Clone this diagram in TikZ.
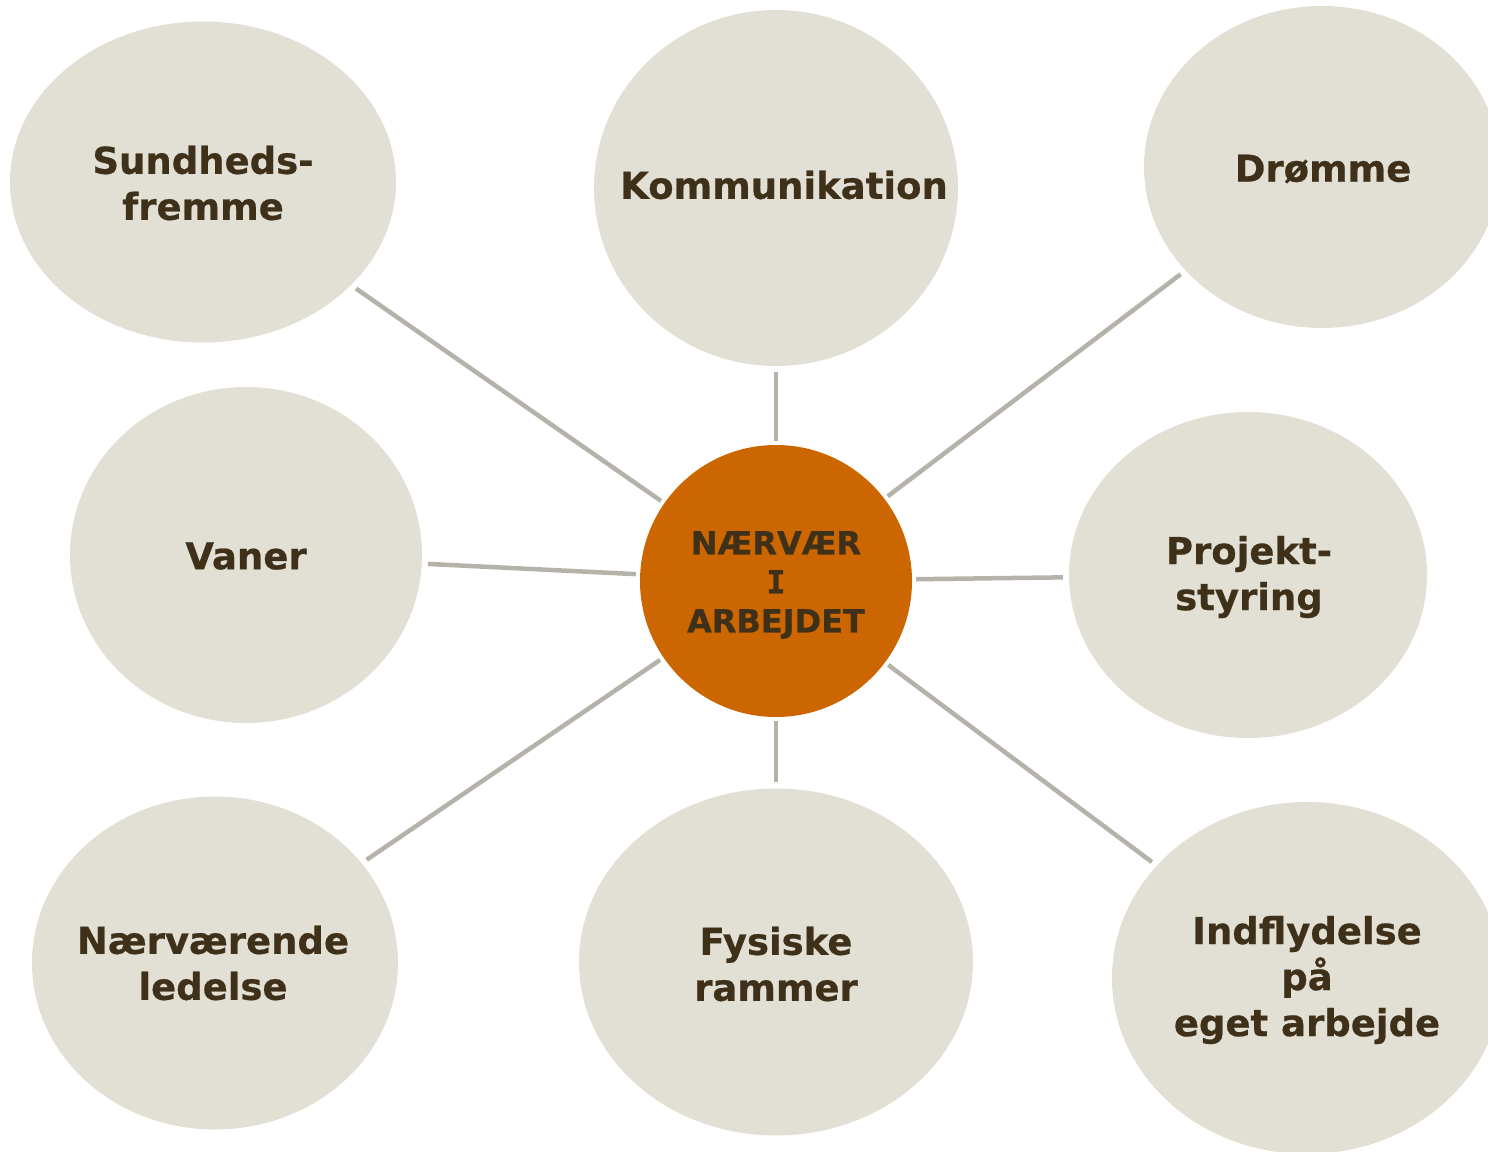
\documentclass[tikz,border=0pt]{standalone}
\usepackage{fontspec}
\setmainfont{DejaVu Sans}[BoldFeatures={FakeBold=0.6}]
\newfontfamily\monoI{DejaVu Sans Mono}[BoldFeatures={FakeBold=0.6}]
\usetikzlibrary{shapes.geometric}
\definecolor{bub}{HTML}{E2DFD5}
\definecolor{ora}{HTML}{CC6600}
\definecolor{txtc}{HTML}{3E3019}
\definecolor{lnc}{HTML}{B5B3A9}
\begin{document}
\begin{tikzpicture}[x=1pt,y=-1pt,
  bubble/.style={ellipse,fill=bub,inner sep=0pt},
  hub/.style={circle,fill=ora,inner sep=0pt,minimum size=272pt},
  txt/.style={text=txtc,font=\bfseries\fontsize{37}{46}\selectfont,align=center,inner sep=0pt},
  hubtxt/.style={text=txtc,font=\bfseries\fontsize{32}{39}\selectfont,align=center,inner sep=0pt},
  conn/.style={draw=lnc,line width=4.5pt,shorten <=4pt,shorten >=6pt}]
\useasboundingbox (0,0) rectangle (1488,1151);
% bubbles
\node[bubble,minimum width=386pt,minimum height=321pt] (sun) at (203,182) {};
\node[bubble,minimum width=364pt,minimum height=356pt] (kom) at (776,188) {};
\node[bubble,minimum width=356pt,minimum height=322pt] (dro) at (1322,167) {};
\node[bubble,minimum width=352pt,minimum height=336pt] (van) at (246,555) {};
\node[bubble,minimum width=358pt,minimum height=326pt] (pro) at (1248,575) {};
\node[bubble,minimum width=366pt,minimum height=333pt] (naer) at (215,963) {};
\node[bubble,minimum width=394pt,minimum height=347pt] (fys) at (776,962) {};
\node[bubble,minimum width=390pt,minimum height=352pt] (ind) at (1307,978) {};
\node[hub] (hub) at (776,581) {};
% connectors
\draw[conn] (hub) -- (sun);
\draw[conn] (hub) -- (kom);
\draw[conn] (hub) -- (dro);
\draw[conn] (hub) -- (van);
\draw[conn] (hub) -- (pro);
\draw[conn] (hub) -- (naer);
\draw[conn] (hub) -- (fys);
\draw[conn] (hub) -- (ind);
% texts
\node[txt] (sunT) at (203,183) {Sundheds-\\fremme};
\node[txt] (komT) at (784,185) {Kommunikation};
\node[txt] (droT) at (1323,169) {Drømme};
\node[txt] (vanT) at (246,556) {Vaner};
\node[txt] (proT) at (1249,577) {Projekt-\\styring};
\node[txt] (naerT) at (213,963) {Nærværende\\ledelse};
\node[txt] (fysT) at (776,964) {Fysiske\\rammer};
\node[txt] (indT) at (1307,980) {Indflydelse\\på\\eget arbejde};
\node[hubtxt] (hubT) at (776,585) {NÆRVÆR\\{\monoI\bfseries I}\\ARBEJDET};
\end{tikzpicture}
\end{document}
